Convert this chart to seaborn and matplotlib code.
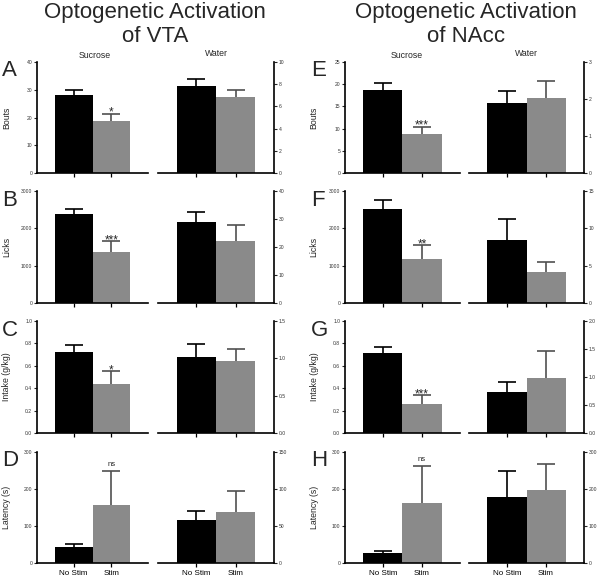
import matplotlib
matplotlib.use("Agg")
import matplotlib.pyplot as plt
import numpy as np
import pandas as pd
import seaborn as sns

sns.set_style("ticks")
plt.rcParams["font.family"] = ["Liberation Sans", "DejaVu Sans"]

conditions = ["No Stim", "Stim"]
measures = ["Bouts", "Licks", "Intake (g/kg)", "Latency (s)"]

# VTA, mean and SEM (No Stim, Stim)
vta_suc_mean = [[28.0, 18.9], [2375, 1375], [0.725, 0.44], [42, 156]]
vta_suc_sem = [[1.9, 2.5], [150, 277], [0.065, 0.11], [10, 93]]
vta_wat_mean = [[7.85, 6.85], [29.0, 22.0], [1.02, 0.97], [58.5, 69.3]]
vta_wat_sem = [[0.65, 0.65], [3.6, 6.0], [0.17, 0.15], [12.2, 28]]
vta_sig = ["*", "***", "*", "ns"]

# NAcc
nacc_suc_mean = [[18.6, 8.85], [2510, 1180], [0.715, 0.256], [26.7, 163]]
nacc_suc_sem = [[1.6, 1.55], [250, 367], [0.055, 0.084], [6.3, 99]]
nacc_wat_mean = [[1.89, 2.02], [8.5, 4.15], [0.73, 0.985], [179, 197]]
nacc_wat_sem = [[0.33, 0.46], [2.8, 1.4], [0.18, 0.475], [70, 71]]
nacc_sig = ["***", "**", "***", "ns"]

# axis ticks
vta_suc_ticks = [[0, 10, 20, 30, 40], [0, 1000, 2000, 3000],
                 [0.0, 0.2, 0.4, 0.6, 0.8, 1.0], [0, 100, 200, 300]]
vta_wat_ticks = [[0, 2, 4, 6, 8, 10], [0, 10, 20, 30, 40],
                 [0.0, 0.5, 1.0, 1.5], [0, 50, 100, 150]]
nacc_suc_ticks = [[0, 5, 10, 15, 20, 25], [0, 1000, 2000, 3000],
                  [0.0, 0.2, 0.4, 0.6, 0.8, 1.0], [0, 100, 200, 300]]
nacc_wat_ticks = [[0, 1, 2, 3], [0, 5, 10, 15],
                  [0.0, 0.5, 1.0, 1.5, 2.0], [0, 100, 200, 300]]
tick_fmt = ["{:g}", "{:g}", "{:.1f}", "{:g}"]

letters_vta = ["A", "B", "C", "D"]
letters_nacc = ["E", "F", "G", "H"]

BLACK = "#000000"
GRAY = "#8a8a8a"
W, H = 600, 577

fig = plt.figure(figsize=(6, 5.77), dpi=100)


def px_axes(x0, y0, x1, y1):
    return fig.add_axes([x0 / W, 1 - y1 / H, (x1 - x0) / W, (y1 - y0) / H])


def draw_bars(ax, means, sems, ticks, fmt, side, sig=None, xlabels=False):
    df = pd.DataFrame({"cond": conditions, "val": means})
    sns.barplot(data=df, x="cond", y="val", hue="cond", palette=[BLACK, GRAY],
                width=1.0, errorbar=None, legend=False, saturation=1,
                linewidth=0, ax=ax, zorder=2)
    for i, (m, s) in enumerate(zip(means, sems)):
        _, caps, _ = ax.errorbar(i, m, yerr=[[0], [s]], fmt="none",
                                 ecolor=BLACK if i == 0 else "#505050",
                                 elinewidth=1.2, capsize=6.5, capthick=1.2,
                                 zorder=1)
        caps[0].set_visible(False)
    ax.set_xlim(-0.97, 1.97)
    ax.set_ylim(ticks[0], ticks[-1])
    ax.set_yticks(ticks)
    ax.set_yticklabels([fmt.format(t) for t in ticks])
    ax.set_xlabel("")
    ax.set_ylabel("")
    ax.set_xticks([0, 1])
    if xlabels:
        ax.set_xticklabels(conditions, fontsize=5.8)
    else:
        ax.set_xticklabels(["", ""])
    ax.tick_params(axis="x", length=3, width=0.9, pad=2, colors="black")
    ax.tick_params(axis="y", length=2.5, width=0.8, pad=1, labelsize=3.6,
                   labelcolor="#333333")
    for sp in ax.spines.values():
        sp.set_linewidth(1.2)
        sp.set_color("black")
        sp.set_zorder(3)
    ax.spines["top"].set_visible(False)
    if side == "left":
        ax.spines["right"].set_visible(False)
    else:
        ax.spines["left"].set_visible(False)
        ax.yaxis.tick_right()
    if sig is not None:
        top = means[1] + sems[1]
        if sig == "ns":
            ax.annotate(sig, (1, top), xytext=(0, 3.5), textcoords="offset points",
                        ha="center", va="baseline", fontsize=5.5)
        else:
            ax.annotate(sig, (1, top), xytext=(0, -1.5), textcoords="offset points",
                        ha="center", va="baseline", fontsize=8.5)


row_y = [(62, 173), (191, 303), (321, 433), (452, 563)]
halves = [
    dict(lx=(37, 148), rx=(158, 274), sm=vta_suc_mean, ss=vta_suc_sem,
         wm=vta_wat_mean, ws=vta_wat_sem, st=vta_suc_ticks, wt=vta_wat_ticks,
         sig=vta_sig, letters=letters_vta, lx_letter=2,
         title="Optogenetic Activation\nof VTA", tx=155, suc_x=95, wat_x=216),
    dict(lx=(345, 460), rx=(469, 584), sm=nacc_suc_mean, ss=nacc_suc_sem,
         wm=nacc_wat_mean, ws=nacc_wat_sem, st=nacc_suc_ticks, wt=nacc_wat_ticks,
         sig=nacc_sig, letters=letters_nacc, lx_letter=311,
         title="Optogenetic Activation\nof NAcc", tx=466, suc_x=407, wat_x=526),
]

for h in halves:
    fig.text(h["tx"] / W, 1 - 2 / H, h["title"], ha="center", va="top",
             fontsize=16, linespacing=1.2)
    fig.text(h["suc_x"] / W, 1 - 56 / H, "Sucrose", ha="center", va="center", fontsize=6.3)
    fig.text(h["wat_x"] / W, 1 - 54 / H, "Water", ha="center", va="center", fontsize=6.3)
    for r, (y0, y1) in enumerate(row_y):
        last = r == len(row_y) - 1
        axl = px_axes(h["lx"][0], y0, h["lx"][1], y1)
        draw_bars(axl, h["sm"][r], h["ss"][r], h["st"][r], tick_fmt[r], "left",
                  sig=h["sig"][r], xlabels=last)
        axl.set_ylabel(measures[r], fontsize=6.3)
        axl.yaxis.set_label_coords(-0.23, 0.5)
        axr = px_axes(h["rx"][0], y0, h["rx"][1], y1)
        draw_bars(axr, h["wm"][r], h["ws"][r], h["wt"][r], tick_fmt[r], "right",
                  xlabels=last)
        fig.text(h["lx_letter"] / W, 1 - (y0 + 9) / H, h["letters"][r],
                 ha="left", va="center", fontsize=16)

fig.savefig("out.png", dpi=100, facecolor="white")
